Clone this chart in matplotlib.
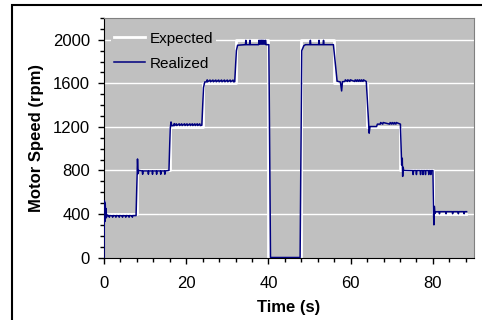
import matplotlib
matplotlib.use("Agg")
import matplotlib.pyplot as plt
from matplotlib.ticker import MultipleLocator
from matplotlib.patches import Rectangle

plt.rcParams['font.family'] = ['Liberation Sans', 'DejaVu Sans']

# Expected (commanded) speed profile
exp_t = [0, 8, 8, 16, 16, 24, 24, 32, 32, 40, 40, 48, 48, 56, 56, 64, 64, 72, 72, 80, 80, 88]
exp_rpm = [400, 400, 800, 800, 1200, 1200, 1600, 1600, 2000, 2000, 0, 0,
           2000, 2000, 1600, 1600, 1200, 1200, 800, 800, 400, 400]

real_t = [0.0, 0.1, 0.2, 0.3, 0.4, 0.5, 0.6, 0.8,
          1.2, 1.3, 1.4, 2.0, 2.1, 2.2, 2.8, 2.9, 3.0, 3.6, 3.7, 3.8, 4.4, 4.5, 4.6,
          5.2, 5.3, 5.4, 6.0, 6.1, 6.2, 6.8, 6.9, 7.0, 7.8,
          8.0, 8.15, 8.3, 8.45,
          9.3, 9.4, 9.5, 10.7, 10.8, 10.9, 11.7, 11.8, 11.9, 12.7, 12.8, 12.9,
          13.7, 13.8, 13.9, 14.7, 14.8, 14.9, 15.8,
          16.1, 16.3, 16.5,
          17.0, 17.1, 17.2, 17.6, 17.7, 18.3, 18.4, 18.9, 19.0, 19.6, 19.7, 20.2, 20.3,
          20.9, 21.0, 21.5, 21.6, 22.1, 22.2, 22.7, 22.8, 23.3, 23.4, 23.8,
          24.2, 24.5,
          25.0, 25.1, 25.2, 25.8, 25.9, 26.5, 26.6, 27.2, 27.3, 27.9, 28.0, 28.6, 28.7,
          29.3, 29.4, 30.0, 30.1, 30.7, 30.8, 31.4, 31.5, 31.8,
          32.2, 32.5,
          34.4, 34.5, 34.6, 35.4, 35.5, 35.6, 37.6, 37.7, 37.9, 38.0, 38.2, 38.3,
          38.5, 38.6, 38.8, 38.9, 39.1, 39.3, 39.4, 40.1,
          40.5, 47.7, 48.1, 48.6, 49.0,
          50.1, 50.2, 50.3, 52.2, 52.3, 52.4, 53.3, 53.4, 53.5, 55.8,
          56.7, 57.5, 57.8, 58.0,
          58.6, 58.7, 59.2, 59.3, 59.8, 59.9, 61.0, 61.1, 61.5, 61.6, 62.0, 62.1,
          62.5, 62.6, 63.0, 63.1, 63.8,
          64.5, 64.7, 66.3, 66.5,
          67.2, 67.3, 67.8, 67.9, 69.5, 69.6, 70.0, 70.1, 70.5, 70.6, 71.0, 71.1, 72.1,
          72.4, 72.55, 72.65, 72.75, 72.9,
          75.1, 75.2, 75.3, 75.9, 76.0, 76.1, 76.9, 77.0, 77.1, 77.5, 77.6, 77.7,
          78.1, 78.2, 78.3, 78.9, 79.0, 79.1, 79.4, 79.5, 79.6, 80.0,
          80.15, 80.25, 80.35, 80.5, 80.7,
          81.5, 81.6, 81.7, 83.1, 83.2, 83.3, 84.7, 84.8, 84.9, 86.1, 86.2, 86.3,
          87.5, 87.6, 87.7, 88.2]
real_rpm = [0, 520, 330, 500, 360, 450, 370, 390,
            383, 370, 385, 383, 370, 385, 383, 370, 385, 383, 370, 385, 383, 370, 385,
            383, 370, 385, 383, 370, 385, 383, 370, 385, 385,
            700, 905, 770, 800,
            795, 765, 795, 795, 765, 795, 795, 765, 795, 795, 765, 795,
            795, 765, 795, 795, 765, 795, 800,
            1180, 1245, 1210,
            1212, 1230, 1212, 1228, 1212, 1228, 1212, 1228, 1212, 1228, 1212, 1228, 1212,
            1228, 1212, 1228, 1212, 1228, 1212, 1228, 1212, 1228, 1212, 1215,
            1560, 1612,
            1614, 1632, 1614, 1630, 1614, 1630, 1614, 1630, 1614, 1630, 1614, 1630, 1614,
            1630, 1614, 1630, 1614, 1630, 1614, 1630, 1614, 1615,
            1900, 1950,
            1955, 1995, 1955, 1955, 1995, 1955, 1955, 1995, 1960, 1995, 1960, 1995,
            1960, 1995, 1960, 1995, 1960, 1995, 1955, 1955,
            0, 0, 1900, 1945, 1955,
            1955, 1995, 1955, 1955, 1995, 1955, 1955, 1995, 1955, 1955,
            1620, 1612, 1530, 1615,
            1617, 1632, 1617, 1632, 1617, 1632, 1617, 1632, 1617, 1632, 1617, 1632,
            1617, 1632, 1617, 1632, 1617,
            1142, 1203, 1203, 1225,
            1225, 1240, 1225, 1240, 1225, 1240, 1225, 1240, 1225, 1240, 1225, 1240, 1225,
            850, 912, 745, 830, 800,
            798, 762, 798, 798, 762, 798, 798, 762, 798, 798, 762, 798,
            798, 762, 798, 798, 762, 798, 798, 762, 798, 798,
            420, 300, 470, 405, 420,
            421, 402, 421, 421, 402, 421, 421, 402, 421, 421, 402, 421,
            421, 402, 421, 421]

fig = plt.figure(figsize=(4.82, 3.2), dpi=100)
ax = fig.add_axes([104 / 482, 1 - 257.5 / 320, 370 / 482, 239.5 / 320])
ax.set_facecolor('#c0c0c0')

for yv in [400, 800, 1200, 1600, 2000]:
    ax.axhline(yv, color='white', lw=1.0, zorder=1)

ax.plot(exp_t, exp_rpm, color='white', lw=2.0, label='Expected', zorder=2)
ax.plot(real_t, real_rpm, color='#000080', lw=1.1, label='Realized', zorder=3)

ax.set_xlim(0, 90)
ax.set_ylim(0, 2200)
ax.xaxis.set_major_locator(MultipleLocator(20))
ax.xaxis.set_minor_locator(MultipleLocator(4))
ax.yaxis.set_major_locator(MultipleLocator(400))
ax.yaxis.set_minor_locator(MultipleLocator(100))
ax.tick_params(axis='both', which='major', direction='out', length=4, width=1,
               labelsize=12)
ax.tick_params(axis='both', which='minor', direction='out', length=3, width=1)
ax.tick_params(axis='y', pad=6)
ax.tick_params(axis='x', pad=9)

for side in ['top', 'right']:
    ax.spines[side].set_color('#808080')
for side in ['left', 'bottom']:
    ax.spines[side].set_color('black')

ax.set_xlabel('Time (s)', fontsize=12, fontweight='bold', labelpad=7)
ax.set_ylabel('Motor Speed (rpm)', fontsize=12, fontweight='bold', labelpad=6.5)

leg = ax.legend(loc='upper left', bbox_to_anchor=(0.02, 0.955), fontsize=11,
                frameon=True, facecolor='#c0c0c0', edgecolor='none', framealpha=1,
                handlelength=2.0, labelspacing=0.7, borderpad=0.2, handletextpad=0.3,
                borderaxespad=0)
leg.get_frame().set_linewidth(0)

# outer chart frame (only top/left edges visible in the crop)
fig.patches.append(Rectangle((12 / 482, -0.05), 1.0, (320 - 4.5) / 320 + 0.05,
                             transform=fig.transFigure, fill=False,
                             edgecolor='black', lw=1.5))

fig.savefig('out.png', dpi=100)
